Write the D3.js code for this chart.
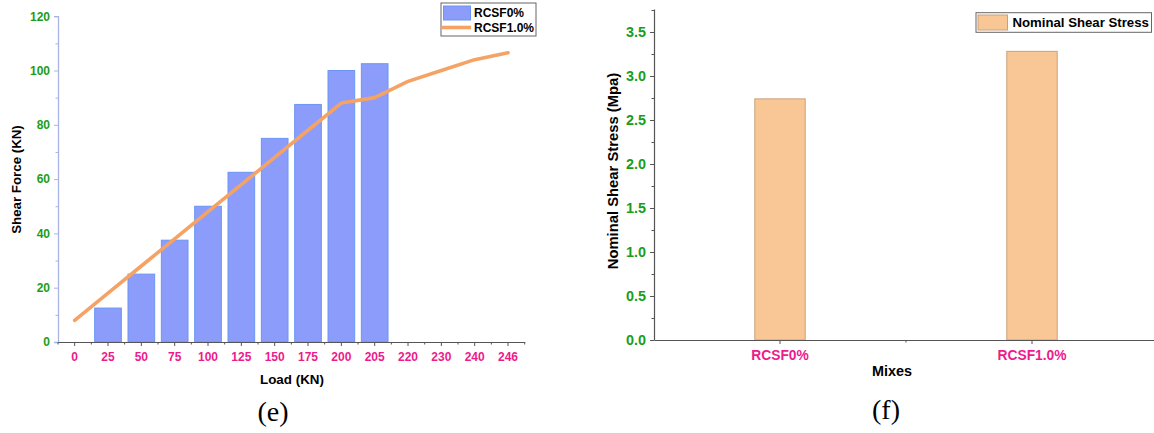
<!DOCTYPE html>
<html>
<head>
<meta charset="utf-8">
<script src="https://cdn.jsdelivr.net/npm/d3@7"></script>
<style>
  html, body { margin: 0; padding: 0; background: #fff; }
  svg { display: block; }
  text { font-family: "Liberation Sans", Arial, sans-serif; }
</style>
</head>
<body>
<svg id="chart" width="1154" height="433"></svg>
<script>
// ---- Panel (e): shear force vs. load ----
const loadLabels = ["0", "25", "50", "75", "100", "125", "150", "175", "200", "205", "220", "230", "240", "246"];
const rcsf0Force = [0, 12.5, 25, 37.5, 50, 62.5, 75, 87.5, 100, 102.5, null, null, null, null];
const rcsf1Force = [8, 18, 28, 38, 48, 58, 68, 78, 88, 90, 96, 100, 104, 106.5];
const forceTicks = [0, 20, 40, 60, 80, 100, 120];
const forceMinorTicks = [10, 30, 50, 70, 90, 110];

// ---- Panel (f): nominal shear stress per mix ----
const mixes = ["RCSF0%", "RCSF1.0%"];
const shearStress = [2.74, 3.28];
const stressTicks = [0, 0.5, 1.0, 1.5, 2.0, 2.5, 3.0, 3.5];
const stressMinorTicks = [0.25, 0.75, 1.25, 1.75, 2.25, 2.75, 3.25, 3.75];

const GREEN = "#1a9e1a";
const PINK = "#ee1a8c";
const AXIS_GREY = "#555";

const svg = d3.select("#chart");

function styleTickText(sel, color, size) {
  sel.selectAll("text")
    .attr("fill", color)
    .style("font-weight", "bold")
    .style("font-size", size + "px");
}

// ================= Panel (e) =================
{
  const left = 58, right = 524.7, top = 16.2, bottom = 342;
  const x = d3.scaleBand().domain(loadLabels).range([left, right]).padding(0);
  const y = d3.scaleLinear().domain([0, 120]).range([bottom, top]);
  const g = svg.append("g");

  // bars
  const barW = x.bandwidth() * 0.8;
  g.append("g").selectAll("rect")
    .data(loadLabels.map((l, i) => ({ l, v: rcsf0Force[i] })).filter(d => d.v))
    .join("rect")
    .attr("x", d => x(d.l) + (x.bandwidth() - barW) / 2)
    .attr("y", d => y(d.v))
    .attr("width", barW)
    .attr("height", d => y(0) - y(d.v))
    .attr("fill", "#8b9cfb")
    .attr("stroke", "#6b95f2")
    .attr("stroke-width", 1);

  // line
  const line = d3.line()
    .x((d, i) => x(loadLabels[i]) + x.bandwidth() / 2)
    .y(d => y(d));
  g.append("path")
    .datum(rcsf1Force)
    .attr("d", line)
    .attr("fill", "none")
    .attr("stroke", "#f4a365")
    .attr("stroke-width", 3.6)
    .attr("stroke-linejoin", "round")
    .attr("stroke-linecap", "round");

  // y axis (lavender)
  const yAxis = g.append("g").attr("transform", `translate(${left},0)`)
    .call(d3.axisLeft(y).tickValues(forceTicks).tickSize(4).tickPadding(4).tickFormat(d3.format("d")));
  yAxis.select(".domain").attr("stroke", "#aab3e6").attr("stroke-width", 1.3);
  yAxis.selectAll(".tick line").attr("stroke", "#aab3e6");
  styleTickText(yAxis, GREEN, 12);
  const yMinor = g.append("g").attr("transform", `translate(${left},0)`)
    .call(d3.axisLeft(y).tickValues(forceMinorTicks).tickSize(2.5).tickFormat(""));
  yMinor.select(".domain").remove();
  yMinor.selectAll(".tick line").attr("stroke", "#aab3e6");

  // x axis
  const xAxis = g.append("g").attr("transform", `translate(0,${bottom})`)
    .call(d3.axisBottom(x).tickSize(4).tickPadding(6).tickSizeOuter(0));
  xAxis.select(".domain").attr("stroke", AXIS_GREY).attr("stroke-width", 1.2);
  xAxis.selectAll(".tick line").attr("stroke", AXIS_GREY);
  styleTickText(xAxis, PINK, 12);
  // minor ticks at band boundaries
  g.append("g").selectAll("line")
    .data(loadLabels.concat(["__end"]))
    .join("line")
    .attr("x1", d => d === "__end" ? right : x(d))
    .attr("x2", d => d === "__end" ? right : x(d))
    .attr("y1", bottom)
    .attr("y2", bottom + 2.5)
    .attr("stroke", AXIS_GREY);

  // axis titles
  g.append("text")
    .attr("x", 292).attr("y", 384)
    .attr("text-anchor", "middle")
    .style("font-weight", "bold").style("font-size", "13.4px")
    .text("Load (KN)");
  g.append("text")
    .attr("transform", "translate(21,179.5) rotate(-90)")
    .attr("text-anchor", "middle")
    .style("font-weight", "bold").style("font-size", "13.3px")
    .text("Shear Force (KN)");

  // legend
  const lg = g.append("g");
  lg.append("rect").attr("x", 441).attr("y", 3).attr("width", 95).attr("height", 33)
    .attr("fill", "#fff").attr("stroke", "#666").attr("stroke-width", 1);
  lg.append("rect").attr("x", 443.5).attr("y", 6).attr("width", 27).attr("height", 14)
    .attr("fill", "#8b9cfb").attr("stroke", "#6b95f2");
  lg.append("line").attr("x1", 441.5).attr("x2", 471).attr("y1", 27.5).attr("y2", 27.5)
    .attr("stroke", "#f4a365").attr("stroke-width", 3.6);
  lg.append("text").attr("x", 474).attr("y", 17.3)
    .style("font-weight", "bold").style("font-size", "12px").text("RCSF0%");
  lg.append("text").attr("x", 474).attr("y", 32)
    .style("font-weight", "bold").style("font-size", "12px").text("RCSF1.0%");

  // caption
  g.append("text")
    .attr("x", 273).attr("y", 421)
    .attr("text-anchor", "middle")
    .style("font-family", "'Liberation Serif', 'DejaVu Serif', serif")
    .style("font-size", "28px")
    .text("(e)");
}

// ================= Panel (f) =================
{
  const left = 654, right = 1158, bottom = 340;
  const x = d3.scaleBand().domain(mixes).range([left, right]).padding(0);
  const y = d3.scaleLinear().domain([0, 3.76]).range([bottom, bottom - 3.76 * 88]);
  const g = svg.append("g");

  const barW = x.bandwidth() * 0.2;
  g.append("g").selectAll("rect")
    .data(mixes.map((m, i) => ({ m, v: shearStress[i] })))
    .join("rect")
    .attr("x", d => x(d.m) + (x.bandwidth() - barW) / 2)
    .attr("y", d => y(d.v))
    .attr("width", barW)
    .attr("height", d => y(0) - y(d.v))
    .attr("fill", "#f9c796")
    .attr("stroke", "#c9a07c")
    .attr("stroke-width", 1);

  const yAxis = g.append("g").attr("transform", `translate(${left},0)`)
    .call(d3.axisLeft(y).tickValues(stressTicks).tickSize(4).tickPadding(4).tickFormat(d3.format(".1f")).tickSizeOuter(0));
  yAxis.select(".domain").attr("stroke", AXIS_GREY).attr("stroke-width", 1.2);
  yAxis.selectAll(".tick line").attr("stroke", AXIS_GREY);
  styleTickText(yAxis, GREEN, 14.4);
  const yMinor = g.append("g").attr("transform", `translate(${left},0)`)
    .call(d3.axisLeft(y).tickValues(stressMinorTicks).tickSize(2.5).tickFormat(""));
  yMinor.select(".domain").remove();
  yMinor.selectAll(".tick line").attr("stroke", AXIS_GREY);

  const xAxis = g.append("g").attr("transform", `translate(0,${bottom})`)
    .call(d3.axisBottom(x).tickSize(4).tickPadding(6).tickSizeOuter(0));
  xAxis.select(".domain").attr("stroke", AXIS_GREY).attr("stroke-width", 1.2);
  xAxis.selectAll(".tick line").attr("stroke", AXIS_GREY);
  styleTickText(xAxis, PINK, 13.8);
  // minor tick between the two mixes
  g.append("line")
    .attr("x1", x(mixes[1])).attr("x2", x(mixes[1]))
    .attr("y1", bottom).attr("y2", bottom + 2.5)
    .attr("stroke", AXIS_GREY);

  g.append("text")
    .attr("x", 892).attr("y", 376)
    .attr("text-anchor", "middle")
    .style("font-weight", "bold").style("font-size", "14.4px")
    .text("Mixes");
  g.append("text")
    .attr("transform", "translate(618,171) rotate(-90)")
    .attr("text-anchor", "middle")
    .style("font-weight", "bold").style("font-size", "14.8px")
    .text("Nominal Shear Stress (Mpa)");

  // legend
  const lg = g.append("g");
  lg.append("rect").attr("x", 976).attr("y", 12.7).attr("width", 175.5).attr("height", 19.6)
    .attr("fill", "#fff").attr("stroke", "#666").attr("stroke-width", 1);
  lg.append("rect").attr("x", 978).attr("y", 15).attr("width", 29.5).attr("height", 15)
    .attr("fill", "#f9c796").attr("stroke", "#c9a07c");
  lg.append("text").attr("x", 1012.5).attr("y", 27.3)
    .style("font-weight", "bold").style("font-size", "13.2px").text("Nominal Shear Stress");

  g.append("text")
    .attr("x", 886).attr("y", 419)
    .attr("text-anchor", "middle")
    .style("font-family", "'Liberation Serif', 'DejaVu Serif', serif")
    .style("font-size", "28px")
    .text("(f)");
}
</script>
</body>
</html>
